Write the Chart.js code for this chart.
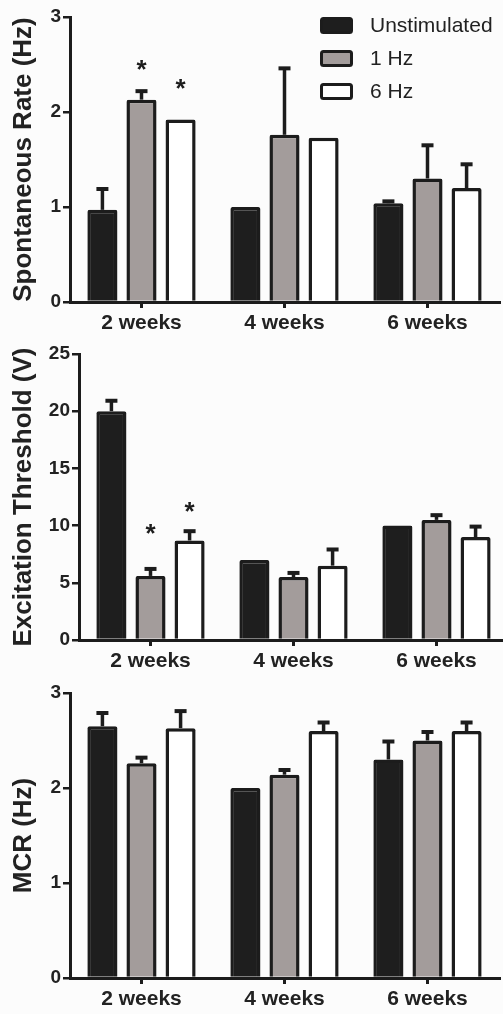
<!DOCTYPE html>
<html><head><meta charset="utf-8">
<script src="https://cdn.jsdelivr.net/npm/chart.js@4.4.1/dist/chart.umd.min.js"></script>
<style>
html,body{margin:0;padding:0;background:#fcfcfc;}
#wrap{position:relative;width:503px;height:1014px;overflow:hidden;background:#fcfcfc;}
canvas{position:absolute;left:0;}
</style></head><body>
<div id="wrap">
<canvas id="c1" width="510" height="340" style="top:0px"></canvas>
<canvas id="c2" width="510" height="345" style="top:335px"></canvas>
<canvas id="c3" width="510" height="339" style="top:675px"></canvas>
</div>
<script>
// ---------- data ----------
const categories = ['2 weeks', '4 weeks', '6 weeks'];
const seriesNames = ['Unstimulated', '1 Hz', '6 Hz'];

// Spontaneous Rate (Hz)
const rateUnstim = [0.97, 1.00, 1.04];
const rate1Hz    = [2.13, 1.76, 1.30];
const rate6Hz    = [1.92, 1.73, 1.20];
const rateUnstimSem = [0.23, 0.00, 0.03];
const rate1HzSem    = [0.10, 0.71, 0.36];
const rate6HzSem    = [0.00, 0.00, 0.26];
const rateStar1Hz   = [2.52, null, null];
const rateStar6Hz   = [2.32, null, null];
const rateTicks = [0, 1, 2, 3];

// Excitation Threshold (V)
const thrUnstim = [20.0, 7.0, 10.0];
const thr1Hz    = [5.6, 5.5, 10.5];
const thr6Hz    = [8.7, 6.5, 9.0];
const thrUnstimSem = [1.0, 0.0, 0.0];
const thr1HzSem    = [0.7, 0.45, 0.5];
const thr6HzSem    = [0.9, 1.5, 1.0];
const thrStar1Hz   = [9.9, null, null];
const thrStar6Hz   = [11.8, null, null];
const thrTicks = [0, 5, 10, 15, 20, 25];

// MCR (Hz)
const mcrUnstim = [2.65, 2.00, 2.30];
const mcr1Hz    = [2.26, 2.14, 2.50];
const mcr6Hz    = [2.63, 2.60, 2.60];
const mcrUnstimSem = [0.15, 0.00, 0.20];
const mcr1HzSem    = [0.07, 0.06, 0.10];
const mcr6HzSem    = [0.19, 0.10, 0.10];
const mcrTicks = [0, 1, 2, 3];

// ---------- styling ----------
const FONT = '"Liberation Sans", Arial, Helvetica, sans-serif';
const INK = '#1c1c1c';
const fills = ['#1e1e1e', '#a39c9b', '#ffffff'];

const errPlugin = {
  id: 'errbars',
  afterDatasetsDraw(chart, args, opts) {
    const ctx = chart.ctx;
    const ys = chart.scales.y;
    ctx.save();
    ctx.strokeStyle = INK;
    ctx.lineWidth = 3.5;
    ctx.lineCap = 'butt';
    (opts.sems || []).forEach((sem, di) => {
      const meta = chart.getDatasetMeta(di);
      const vals = chart.data.datasets[di].data;
      meta.data.forEach((bar, j) => {
        if (!sem[j]) return;
        const y0 = ys.getPixelForValue(vals[j]);
        const y1 = ys.getPixelForValue(vals[j] + sem[j]);
        ctx.beginPath();
        ctx.moveTo(bar.x, y0);
        ctx.lineTo(bar.x, y1);
        ctx.stroke();
        ctx.beginPath();
        ctx.lineWidth = 4;
        ctx.moveTo(bar.x - 6, y1 + 1);
        ctx.lineTo(bar.x + 6, y1 + 1);
        ctx.stroke();
        ctx.lineWidth = 3.5;
      });
    });
    ctx.fillStyle = INK;
    ctx.font = 'bold 26px ' + FONT;
    ctx.textAlign = 'center';
    ctx.textBaseline = 'alphabetic';
    (opts.stars || []).forEach((st, di) => {
      if (!st) return;
      const meta = chart.getDatasetMeta(di);
      meta.data.forEach((bar, j) => {
        if (st[j] == null) return;
        const y = ys.getPixelForValue(st[j]);
        ctx.fillText('*', bar.x, y + 15);
      });
    });
    ctx.restore();
  }
};

const legendPlugin = {
  id: 'boxLegend',
  afterDraw(chart, args, opts) {
    if (!opts.show) return;
    const ctx = chart.ctx;
    const ca = chart.chartArea;
    ctx.save();
    chart.data.datasets.forEach((ds, i) => {
      const x = ca.right - 179, y = ca.top + i * 33;
      ctx.beginPath();
      ctx.roundRect(x + 1.5, y + 1.5, 30, 14, 2);
      ctx.fillStyle = ds.backgroundColor;
      ctx.fill();
      ctx.lineWidth = 3;
      ctx.strokeStyle = INK;
      ctx.stroke();
      ctx.fillStyle = '#222';
      ctx.font = '21px ' + FONT;
      ctx.textAlign = 'left';
      ctx.textBaseline = 'middle';
      ctx.fillText(ds.label, x + 50, y + 9);
    });
    ctx.restore();
  }
};

function makeChart(id, opt) {
  const datasets = opt.series.map((d, i) => ({
    label: seriesNames[i],
    data: d,
    backgroundColor: fills[i],
    borderColor: INK,
    borderWidth: 3.5,
    borderRadius: 2,
    borderSkipped: 'bottom',
    barPercentage: 0.77,
    categoryPercentage: 0.82
  }));
  return new Chart(document.getElementById(id), {
    type: 'bar',
    data: { labels: categories, datasets },
    plugins: [errPlugin, legendPlugin],
    options: {
      responsive: false,
      animation: false,
      devicePixelRatio: 1,
      layout: { padding: { top: opt.padTop, right: opt.padRight, left: 0, bottom: 0 } },
      plugins: {
        legend: { display: false },
        tooltip: { enabled: false },
        errbars: { sems: opt.sems, stars: opt.stars },
        boxLegend: { show: !!opt.legend }
      },
      scales: {
        x: {
          type: 'category',
          offset: true,
          grid: { display: true, drawOnChartArea: false, drawTicks: true, tickLength: 6, offset: false, color: INK, tickColor: INK, lineWidth: 3 },
          border: { display: true, color: INK, width: 3 },
          ticks: { color: '#222', padding: 3, font: { family: FONT, size: 21, weight: 'bold' } },
          afterFit: (s) => { s.height = opt.xHeight; }
        },
        y: {
          min: opt.ticks[0],
          max: opt.ticks[opt.ticks.length - 1],
          afterBuildTicks: (s) => { s.ticks = opt.ticks.map(v => ({ value: v })); },
          grid: { display: true, drawOnChartArea: false, drawTicks: true, tickLength: 7, color: INK, tickColor: INK, lineWidth: 2.5 },
          border: { display: true, color: INK, width: 3 },
          ticks: { color: '#222', padding: 2, font: { family: FONT, size: 19, weight: 'bold' } },
          title: { display: true, text: opt.title, color: '#222', font: { family: FONT, size: 26, weight: 'bold' }, padding: { top: 8, bottom: 0 } },
          afterFit: (s) => { s.width = opt.yWidth; }
        }
      }
    }
  });
}

makeChart('c1', {
  series: [rateUnstim, rate1Hz, rate6Hz],
  sems: [rateUnstimSem, rate1HzSem, rate6HzSem],
  stars: [null, rateStar1Hz, rateStar6Hz],
  ticks: rateTicks,
  title: 'Spontaneous Rate (Hz)',
  padTop: 17, padRight: 11, xHeight: 38, yWidth: 70, legend: true
});
makeChart('c2', {
  series: [thrUnstim, thr1Hz, thr6Hz],
  sems: [thrUnstimSem, thr1HzSem, thr6HzSem],
  stars: [null, thrStar1Hz, thrStar6Hz],
  ticks: thrTicks,
  title: 'Excitation Threshold (V)',
  padTop: 19, padRight: 2, xHeight: 40, yWidth: 79
});
makeChart('c3', {
  series: [mcrUnstim, mcr1Hz, mcr6Hz],
  sems: [mcrUnstimSem, mcr1HzSem, mcr6HzSem],
  stars: [],
  ticks: mcrTicks,
  title: 'MCR (Hz)',
  padTop: 18, padRight: 11, xHeight: 36, yWidth: 70
});
</script>
</body></html>
